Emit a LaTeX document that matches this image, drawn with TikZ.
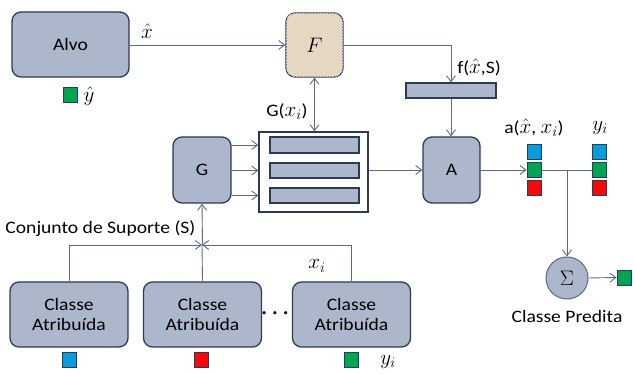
\RequirePackage{fix-cm}
\documentclass[tikz,border=0pt]{standalone}
\usepackage{fontspec}
\setmainfont{Carlito}[FakeStretch=1.12]
\usepackage{amsmath}
\usetikzlibrary{arrows.meta,patterns}
\definecolor{boxfill}{HTML}{ADB7CB}
\definecolor{boxline}{HTML}{2B3A55}
\definecolor{wirecol}{HTML}{5A6A84}
\definecolor{burlap}{HTML}{DCD1B8}
\definecolor{sqblue}{HTML}{0A9BDB}
\definecolor{sqgreen}{HTML}{00A551}
\definecolor{sqred}{HTML}{F50A0A}
\newcommand{\lblmath}[1]{{\fontsize{21}{24}\selectfont$#1$}}
\tikzset{every node/.append style={font=\fontsize{17.5}{20}\selectfont}}
\tikzset{
  blockbox/.style={draw=boxline, fill=boxfill, line width=1.3pt, rounded corners=9pt, inner sep=0pt, align=center},
  barbox/.style={draw=boxline, fill=boxfill, line width=1.2pt, inner sep=0pt},
  wire/.style={draw=wirecol, line width=0.9pt},
  tip/.style={-{Straight Barb[length=6pt,width=9pt]}},
  sq/.style={draw=boxline, line width=0.8pt, minimum width=14pt, minimum height=15pt, inner sep=0pt},
}

\begin{document}
\begin{tikzpicture}[x=1pt, y=-1pt]
    \useasboundingbox (0,0) rectangle (633,374);
    % blocks
    \node[blockbox, minimum width=117pt, minimum height=65pt] (alvo) at (70.5,44.5) {Alvo};
    \node[blockbox, minimum width=57pt, minimum height=64pt, fill=burlap,
          postaction={pattern=crosshatch, pattern color=brown!25}] (F) at (314.5,45) {\lblmath{F}};
    \node[barbox, minimum width=90pt, minimum height=15pt] (fS) at (451,90.5) {};
    \node[blockbox, minimum width=57pt, minimum height=66pt] (A) at (451.5,170) {A};
    \node[blockbox, minimum width=58pt, minimum height=66pt] (G) at (202,170) {G};
    \node[draw=boxline, line width=1.3pt, fill=white, minimum width=109pt, minimum height=80pt] (list) at (313.5,172) {};
    \node[barbox, minimum width=89pt, minimum height=16pt] (bar1) at (314.5,145) {};
    \node[barbox, minimum width=89pt, minimum height=15pt] (bar2) at (314.5,170.5) {};
    \node[barbox, minimum width=89pt, minimum height=15pt] (bar3) at (314.5,195.5) {};
    \node[blockbox, minimum width=118pt, minimum height=65pt] (c1) at (69,314.5) {Classe\\Atribuída};
    \node[blockbox, minimum width=118pt, minimum height=65pt] (c2) at (202.5,314.5) {Classe\\Atribuída};
    \node[blockbox, minimum width=118pt, minimum height=65pt] (c3) at (351.5,314.5) {Classe\\Atribuída};
    \node (dots) at (277,314) {\lblmath{\boldsymbol{\cdots}}};
    \node[circle, draw=wirecol, fill=boxfill, line width=1pt, minimum size=42pt, inner sep=0pt] (sigma) at (567,278) {\lblmath{\Sigma}};
    % class squares
    \node[sq, fill=sqblue] (ab) at (534,152) {};
    \node[sq, fill=sqgreen] (ag) at (534,170) {};
    \node[sq, fill=sqred] (ar) at (534,187.5) {};
    \node[sq, fill=sqblue] (yb) at (599,152) {};
    \node[sq, fill=sqgreen] (yg) at (599,170) {};
    \node[sq, fill=sqred] (yr) at (599,187.5) {};
    \node[sq, fill=sqgreen] (out) at (624,277.5) {};
    \node[sq, fill=sqgreen] (alvosq) at (70,94.5) {};
    \node[sq, fill=sqblue] (s1) at (69.5,360) {};
    \node[sq, fill=sqred] (s2) at (201.5,360) {};
    \node[sq, fill=sqgreen] (s3) at (351.5,360) {};
    % labels
    \node (xhat) at (147,31) {\lblmath{\hat{x}}};
    \node (yhat) at (89,96) {\lblmath{\hat{y}}};
    \node (Gx) at (287,112) {G(\lblmath{x_i})};
    \node (fxs) at (479,67) {f(\lblmath{\hat{x}},S)};
    \node (axl) at (534,128) {a(\lblmath{\hat{x}}, \lblmath{x_i})};
    \node (yil) at (600,128) {\lblmath{y_i}};
    \node (xil) at (317,266) {\lblmath{x_i}};
    \node (yib) at (388,362) {\lblmath{y_i}};
    \node[anchor=east] (sup) at (199,229) {Conjunto de Suporte (S)};
    \node (pred) at (567,316) {Classe Predita};
    % connectors
    \coordinate (junc) at (202,245);
    \coordinate (br) at (567,170);
    \draw[wire, tip] (alvo.east |- F.west) -- (F.west);
    \draw[wire, tip] (F.east) -| (fS.north);
    \draw[wire, tip] (fS.south) -- (fS.south |- A.north);
    \draw[wire, {Straight Barb[length=6pt,width=9pt]}-{Straight Barb[length=6pt,width=9pt]}] (F.south) -- (F.south |- list.north);
    \foreach \k in {1,2,3}
        \draw[wire, tip] (G.east |- bar\k) -- (list.west |- bar\k);
    \draw[wire, tip] (A.west -| list.east) -- (A.west);
    \draw[wire, tip] (A.east) -- (ag.west);
    \draw[wire] (ag.east) -- (yg.west);
    \draw[wire, tip] (br) -- (sigma.north);
    \draw[wire, tip] (sigma.east) -- (out.west);
    \draw[wire, tip] (c1.north) |- (junc);
    \draw[wire, tip] (c3.north) |- (junc);
    \draw[wire, tip] (c2.north |- junc) -- (G.south);
    \draw[wire] (c2.north) -- (junc);
\end{tikzpicture}
\end{document}
